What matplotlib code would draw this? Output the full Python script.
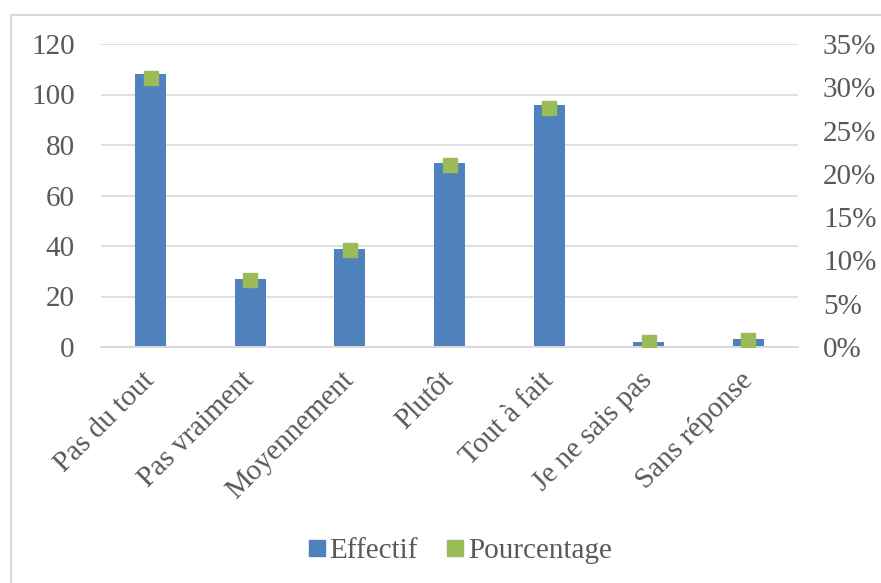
import matplotlib
matplotlib.use("Agg")
import matplotlib.pyplot as plt
from matplotlib.patches import Rectangle
from matplotlib.lines import Line2D
from matplotlib.ticker import PercentFormatter
from matplotlib.transforms import ScaledTranslation

# Réponses à la question
categories = ["Pas du tout", "Pas vraiment", "Moyennement", "Plutôt",
              "Tout à fait", "Je ne sais pas", "Sans réponse"]
effectif = [108, 27, 39, 73, 96, 2, 3]
total = sum(effectif)
pourcentage = [v / total for v in effectif]

BLUE = "#4F81BD"
GREEN = "#9BBB59"
GRID = "#D9D9D9"
TEXT = "#595959"
FS = 21

plt.rcParams["font.family"] = ["Liberation Serif", "DejaVu Serif"]
plt.rcParams["font.size"] = FS

fig = plt.figure(figsize=(8.81, 5.83), dpi=100)
fig.patches.append(Rectangle((11 / 881, -0.1), 1.1, 1 - 15 / 583 + 0.1,
                             transform=fig.transFigure, fill=False,
                             edgecolor=GRID, linewidth=1.5))

ax = fig.add_axes([101 / 881, 1 - 347 / 583, 697 / 881, 303 / 583])
x = range(len(categories))
ax.bar(x, effectif, width=0.31, color=BLUE, zorder=2)
ax.set_xlim(-0.5, len(categories) - 0.5)
ax.set_ylim(0, 120)
ax.set_yticks(range(0, 121, 20))
ax.grid(axis="y", color=GRID, linewidth=1.2, zorder=0)
ax.set_xticks(list(x))
ax.set_xticklabels(categories, rotation=45, ha="right", va="center",
                   rotation_mode="anchor")
shift = ScaledTranslation(0.05, 0, fig.dpi_scale_trans)
for lab in ax.get_xticklabels():
    lab.set_transform(lab.get_transform() + shift)

ax2 = ax.twinx()
ax2.plot(list(x), pourcentage, linestyle="none", marker="s", markersize=10,
         color=GREEN, zorder=3)
ax2.set_ylim(0, 0.35)
ax2.set_yticks([i * 0.05 for i in range(8)])
ax2.yaxis.set_major_formatter(PercentFormatter(1.0, decimals=0))

for a in (ax, ax2):
    for side in ("top", "left", "right"):
        a.spines[side].set_visible(False)
    a.spines["bottom"].set_color(GRID)
    a.spines["bottom"].set_linewidth(1.2)
    a.tick_params(length=0, colors=TEXT, labelsize=FS)
ax.tick_params(axis="y", pad=19)
ax.tick_params(axis="x", pad=21)
ax2.tick_params(axis="y", pad=18)

handles = [
    Line2D([], [], linestyle="none", marker="s", markersize=11, color=BLUE),
    Line2D([], [], linestyle="none", marker="s", markersize=11, color=GREEN),
]
leg = fig.legend(handles, ["Effectif", "Pourcentage"], loc="center",
                 bbox_to_anchor=(459 / 881, 1 - 551 / 583), ncol=2,
                 frameon=False, handletextpad=0.1, columnspacing=0.9,
                 handlelength=0.7, fontsize=FS)
for t in leg.get_texts():
    t.set_color(TEXT)

fig.savefig("out.png", dpi=100)
